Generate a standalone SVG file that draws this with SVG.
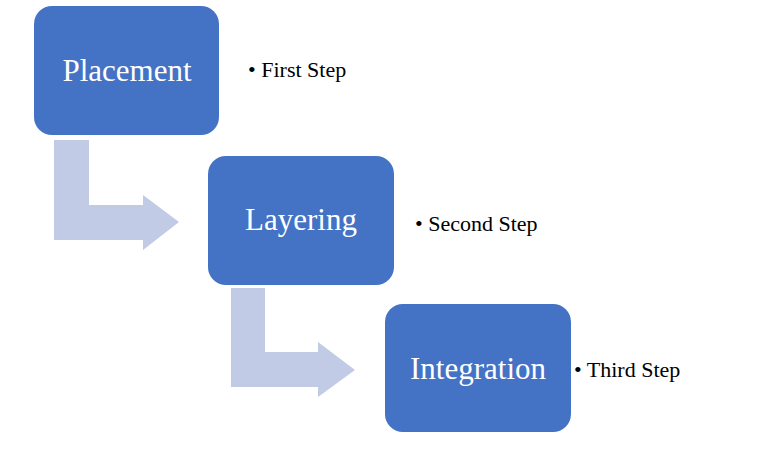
<svg xmlns="http://www.w3.org/2000/svg" width="784" height="452" viewBox="0 0 784 452">
<style>
.box{fill:#4472C4}
.bt{fill:#fff;font-family:"Liberation Serif",serif;font-size:31px;text-anchor:middle}
.arr{fill:#C1CBE5}
.lb{fill:#000;font-family:"Liberation Serif",serif;font-size:22px}
</style>
<rect width="784" height="452" fill="#fff"/>
<g id="connectors">
<path class="arr" d="M54,140 H89 V205 H143 V195 L179,222 L143,250 V240 H54 Z"/>
<path class="arr" d="M231,288 H265 V352 H318 V342 L355,370 L318,397 V387 H231 Z"/>
</g>
<g id="placement"><rect class="box" x="34" y="6" width="185" height="129" rx="18"/><text class="bt" x="127" y="81">Placement</text></g>
<g id="layering"><rect class="box" x="208" y="156" width="186" height="129" rx="18"/><text class="bt" x="301" y="230">Layering</text></g>
<g id="integration"><rect class="box" x="385" y="304" width="186" height="128" rx="18"/><text class="bt" x="478" y="379">Integration</text></g>
<g id="labels">
<text class="lb" x="248" y="77">•  First Step</text>
<text class="lb" x="415" y="231">•  Second Step</text>
<text class="lb" x="574" y="377">•  Third Step</text>
</g>
</svg>
